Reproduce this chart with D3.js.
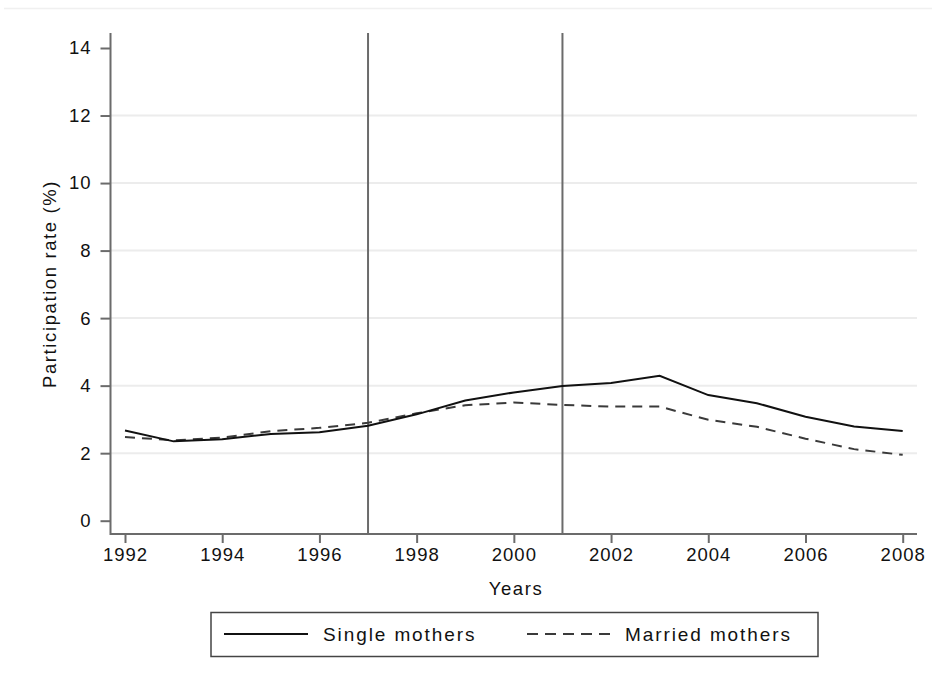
<!DOCTYPE html>
<html><head><meta charset="utf-8">
<script src="https://cdn.jsdelivr.net/npm/d3@7"></script>
<style>body{margin:0;background:#fff;} svg{display:block;font-family:"Liberation Sans",Arial,sans-serif;}</style>
</head><body>
<script>
const years = [1992,1993,1994,1995,1996,1997,1998,1999,2000,2001,2002,2003,2004,2005,2006,2007,2008];
const singleMothers = [2.67,2.35,2.41,2.57,2.62,2.81,3.15,3.56,3.80,3.99,4.08,4.29,3.72,3.48,3.08,2.79,2.66];
const marriedMothers = [2.48,2.38,2.46,2.65,2.75,2.90,3.18,3.42,3.50,3.43,3.38,3.38,2.99,2.78,2.43,2.12,1.95];
const xTicks = [1992,1994,1996,1998,2000,2002,2004,2006,2008];
const yTicks = [0,2,4,6,8,10,12,14];
const gridValues = [2,4,6,8,10,12];
const policyYears = [1997,2001];
const seriesNames = ["Single mothers","Married mothers"];

const W=932,H=682;
const svg=d3.select("body").append("svg").attr("width",W).attr("height",H);
const x=d3.scaleLinear().domain([1992,2008]).range([125,902.7]);
const y=d3.scaleLinear().domain([0,14]).range([520.7,48]);
const axisColor="#6b6b6b";
const FS=18.5, LS="1.6px";

// top faint border
svg.append("line").attr("x1",4).attr("x2",932).attr("y1",8.5).attr("y2",8.5).attr("stroke","#f0f0f0").attr("stroke-width",1.5);

// gridlines
svg.append("g").selectAll("line").data(gridValues).join("line")
 .attr("x1",111).attr("x2",917).attr("y1",d=>y(d)).attr("y2",d=>y(d))
 .attr("stroke","#ececec").attr("stroke-width",2);

// y axis
const ya=svg.append("g").attr("transform","translate(110.5,0)")
 .call(d3.axisLeft(y).tickValues(yTicks).tickSize(10).tickPadding(9).tickFormat(d3.format("d")));
ya.select(".domain").remove();
ya.append("line").attr("x1",0).attr("x2",0).attr("y1",33).attr("y2",535).attr("stroke",axisColor).attr("stroke-width",2);
ya.selectAll(".tick line").attr("stroke",axisColor).attr("stroke-width",2);
ya.selectAll(".tick text").attr("font-size",FS).attr("fill","#111").attr("font-family","Liberation Sans, Arial, sans-serif").attr("letter-spacing","1px");

// x axis
const xa=svg.append("g").attr("transform","translate(0,534)")
 .call(d3.axisBottom(x).tickValues(xTicks).tickSize(9).tickPadding(5).tickFormat(d3.format("d")));
xa.select(".domain").remove();
xa.append("line").attr("x1",110).attr("x2",917).attr("y1",0).attr("y2",0).attr("stroke",axisColor).attr("stroke-width",2);
xa.selectAll(".tick line").attr("stroke",axisColor).attr("stroke-width",2);
xa.selectAll(".tick text").attr("font-size",FS).attr("fill","#111").attr("font-family","Liberation Sans, Arial, sans-serif").attr("letter-spacing","1px");

// axis titles
svg.append("text").attr("transform","translate(56,284) rotate(-90)").attr("text-anchor","middle")
 .attr("font-size",FS).attr("letter-spacing",LS).attr("fill","#111").text("Participation rate (%)");
svg.append("text").attr("x",516).attr("y",595).attr("text-anchor","middle").attr("font-size",FS).attr("letter-spacing",LS).attr("fill","#111").text("Years");

// policy lines
svg.append("g").selectAll("line").data(policyYears).join("line")
 .attr("x1",d=>x(d)).attr("x2",d=>x(d)).attr("y1",33).attr("y2",534)
 .attr("stroke",axisColor).attr("stroke-width",2);

const line=d3.line().x((d,i)=>x(years[i])).y(d=>y(d));
svg.append("path").datum(marriedMothers).attr("d",line).attr("fill","none")
 .attr("stroke","#3a3a3a").attr("stroke-width",2).attr("stroke-dasharray","10,7");
svg.append("path").datum(singleMothers).attr("d",line).attr("fill","none")
 .attr("stroke","#111").attr("stroke-width",2);

// legend
const lg=svg.append("g");
lg.append("rect").attr("x",211).attr("y",612.5).attr("width",607).attr("height",44).attr("fill","#fff").attr("stroke","#444").attr("stroke-width",1.5);
lg.append("line").attr("x1",224).attr("x2",308).attr("y1",634).attr("y2",634).attr("stroke","#111").attr("stroke-width",2);
lg.append("text").attr("x",323).attr("y",641).attr("font-size",19).attr("letter-spacing","1.9px").attr("fill","#111").text(seriesNames[0]);
lg.append("line").attr("x1",527).attr("x2",612).attr("y1",634).attr("y2",634).attr("stroke","#3a3a3a").attr("stroke-width",2).attr("stroke-dasharray","11,7");
lg.append("text").attr("x",625).attr("y",641).attr("font-size",19).attr("letter-spacing","1.9px").attr("fill","#111").text(seriesNames[1]);
</script>
</body></html>
